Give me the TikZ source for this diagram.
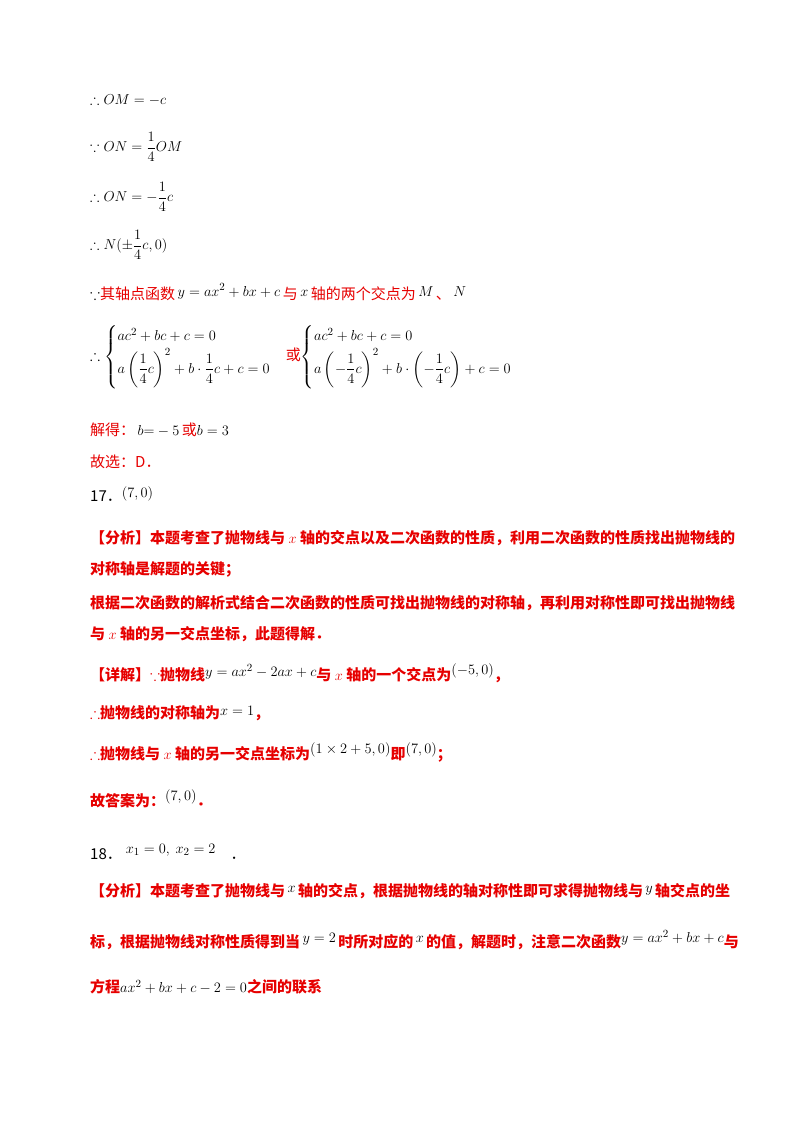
\documentclass[tikz,border=0pt]{standalone}
\usepackage{amsmath,amssymb}
\usepackage{fontspec}
\newfontfamily\cjk{Noto Sans CJK SC}
\definecolor{rd}{RGB}{230,0,0}
\begin{document}
\begin{tikzpicture}[x=1pt,y=-1pt,
  ln/.style={anchor=west,inner sep=0pt,font=\fontsize{14}{16}\selectfont},
  rt/.style={anchor=west,inner sep=0pt,font=\fontsize{15}{17}\selectfont\cjk,text=rd}]
\useasboundingbox (0,0) rectangle (800,1132);
\node[ln] (l1) at (90,100) {$\therefore OM=-c$};
\node[ln] (l2) at (90,147) {$\because ON=\dfrac14 OM$};
\node[ln] (l3) at (90,197) {$\therefore ON=-\dfrac14 c$};
\node[ln] (l4) at (90,245) {$\therefore N(\pm\dfrac14 c,0)$};
\node[rt] (l5) at (90,292) {$\color{black}\because$其轴点函数\,\raisebox{3pt}{\color{black}$y=ax^2+bx+c$}\,与\,\raisebox{3pt}{\color{black}$x$}\,轴的两个交点为\,\raisebox{3pt}{\color{black}$M$}\,、\,\raisebox{3pt}{\color{black}$N$}};
\node[rt] (l6) at (90,357) {\color{black}$\therefore\begin{cases}ac^2+bc+c=0\\[2pt] a\left(\dfrac14c\right)^2+b\cdot\dfrac14c+c=0\end{cases}$\color{rd}或\color{black}$\begin{cases}ac^2+bc+c=0\\[2pt] a\left(-\dfrac14c\right)^2+b\cdot\left(-\dfrac14c\right)+c=0\end{cases}$};
\node[rt] (l7) at (90,430) {解得：\,\color{black}$b{=}-5$\,\color{rd}或\color{black}$b=3$};
\node[rt] (l8) at (90,462) {故选：D．};
\node[rt] (l9) at (90,494) {\color{black}17．\raisebox{4pt}{$\left(7,0\right)$}};
\node[rt,font=\fontsize{15}{17}\selectfont\cjk\bfseries] (l10) at (90,538) {【分析】本题考查了抛物线与 $x$ 轴的交点以及二次函数的性质，利用二次函数的性质找出抛物线的};
\node[rt,font=\fontsize{15}{17}\selectfont\cjk\bfseries] (l11) at (90,569) {对称轴是解题的关键；};
\node[rt,font=\fontsize{15}{17}\selectfont\cjk\bfseries] (l12) at (90,603) {根据二次函数的解析式结合二次函数的性质可找出抛物线的对称轴，再利用对称性即可找出抛物线};
\node[rt,font=\fontsize{15}{17}\selectfont\cjk\bfseries] (l13) at (90,634) {与 $x$ 轴的另一交点坐标，此题得解．};
\node[rt,font=\fontsize{15}{17}\selectfont\cjk\bfseries] (l14) at (90,673) {【详解】$\because$抛物线\raisebox{4pt}{\color{black}\mdseries$y=ax^2-2ax+c$}与 $x$ 轴的一个交点为\raisebox{6pt}{\color{black}\mdseries$\left(-5,0\right)$}，};
\node[rt,font=\fontsize{15}{17}\selectfont\cjk\bfseries] (l15) at (90,713) {$\therefore$抛物线的对称轴为\raisebox{3pt}{\color{black}\mdseries$x=1$}，};
\node[rt,font=\fontsize{15}{17}\selectfont\cjk\bfseries] (l16) at (90,752) {$\therefore$抛物线与 $x$ 轴的另一交点坐标为\raisebox{6pt}{\color{black}\mdseries$\left(1\times2+5,0\right)$}即\raisebox{6pt}{\color{black}\mdseries$\left(7,0\right)$}；};
\node[rt,font=\fontsize{15}{17}\selectfont\cjk\bfseries] (l17) at (90,799) {故答案为：\raisebox{6pt}{\color{black}\mdseries$\left(7,0\right)$}．};
\node[rt] (l18) at (90,852) {\color{black}18．\raisebox{6pt}{$\;x_1=0,\ x_2=2$}\quad．};
\node[rt,font=\fontsize{15}{17}\selectfont\cjk\bfseries] (l19) at (90,891) {【分析】本题考查了抛物线与\raisebox{4pt}{\color{black}\mdseries$\,x\,$}轴的交点，根据抛物线的轴对称性即可求得抛物线与\raisebox{4pt}{\color{black}\mdseries$\,y\,$}轴交点的坐};
\node[rt,font=\fontsize{15}{17}\selectfont\cjk\bfseries] (l20) at (90,940) {标，根据抛物线对称性质得到当\raisebox{5pt}{\color{black}\mdseries$\,y=2\,$}时所对应的\raisebox{5pt}{\color{black}\mdseries$\,x\,$}的值，解题时，注意二次函数\raisebox{5pt}{\color{black}\mdseries$y=ax^2+bx+c$}与};
\node[rt,font=\fontsize{15}{17}\selectfont\cjk\bfseries] (l21) at (90,987) {方程\color{black}\mdseries$ax^2+bx+c-2=0$\color{rd}\bfseries 之间的联系};
\end{tikzpicture}
\end{document}
